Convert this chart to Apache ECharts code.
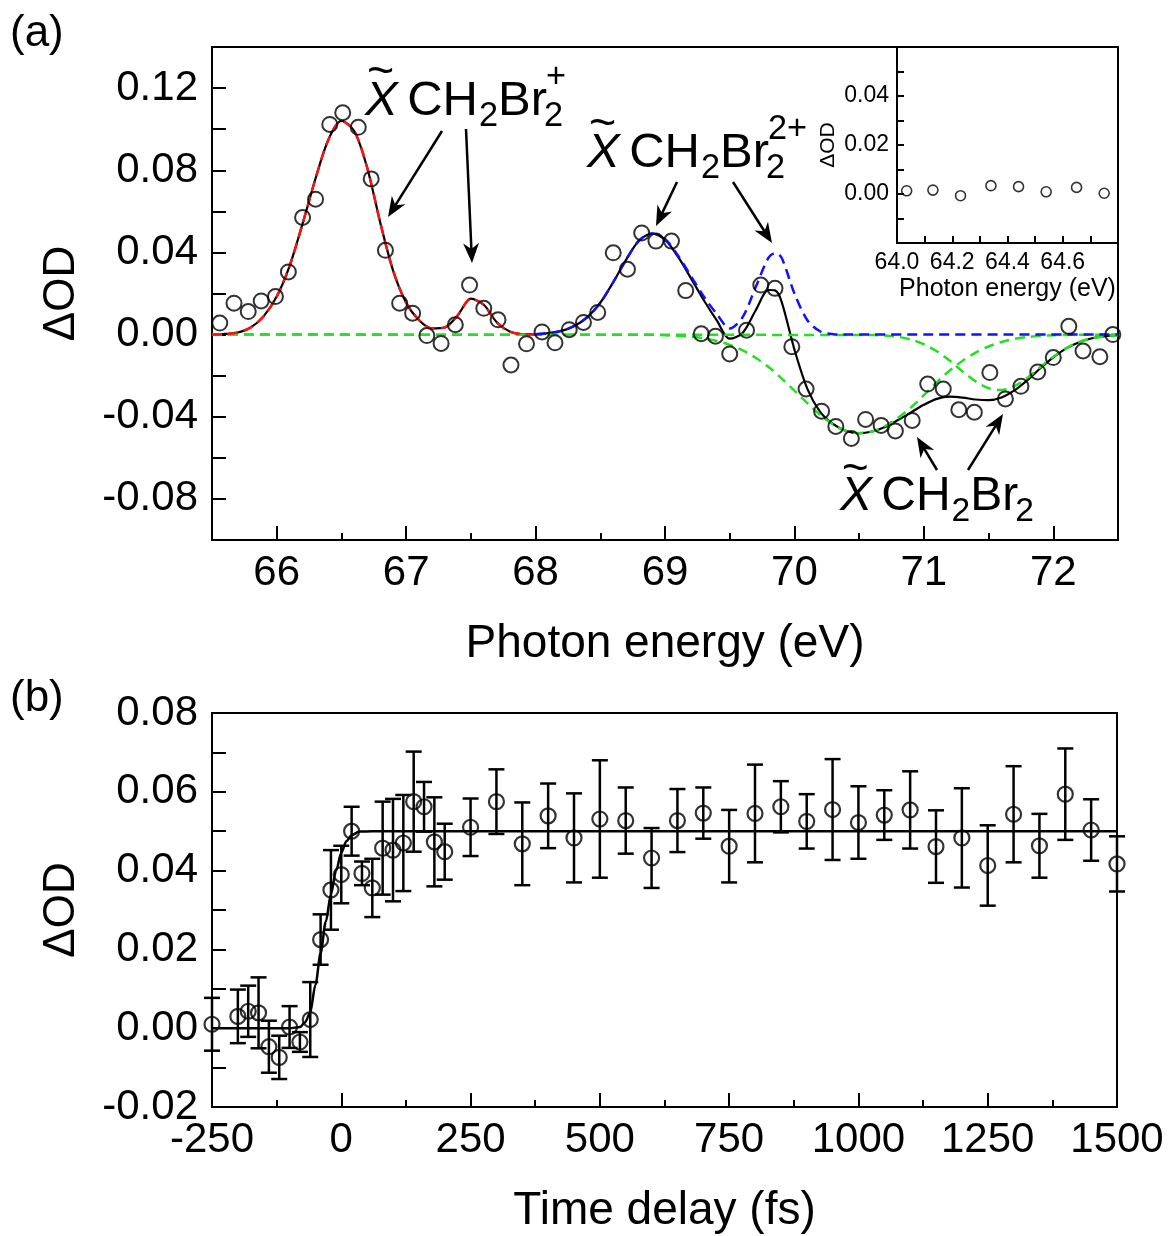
<!DOCTYPE html>
<html><head><meta charset="utf-8">
<script src="https://cdn.jsdelivr.net/npm/echarts@6/dist/echarts.min.js"></script>
<style>html,body{margin:0;padding:0;background:#fff}#c{width:1171px;height:1236px}</style>
</head><body><div id="c"></div>
<script>
const FONT = '"Liberation Sans", Arial, Helvetica, sans-serif';

// ---------- Panel (a): measured transient spectrum ----------
const specEnergy = [65.56,65.67,65.78,65.88,65.99,66.09,66.20,66.30,66.41,66.51,66.63,66.73,66.84,66.95,67.05,67.16,67.27,67.38,67.49,67.60,67.71,67.81,67.93,68.05,68.15,68.26,68.37,68.48,68.60,68.71,68.82,68.93,69.05,69.16,69.28,69.39,69.50,69.63,69.74,69.85,69.98,70.09,70.21,70.32,70.44,70.55,70.67,70.78,70.91,71.03,71.15,71.27,71.39,71.51,71.63,71.75,71.88,72.00,72.12,72.23,72.36,72.46];
const specOD = [0.0056,0.0153,0.0112,0.0164,0.0185,0.0305,0.0570,0.0659,0.1023,0.1080,0.1009,0.0758,0.0410,0.0153,0.0104,-0.0005,-0.0043,0.0048,0.0241,0.0128,0.0072,-0.0148,-0.0045,0.0013,-0.0040,0.0024,0.0059,0.0108,0.0398,0.0318,0.0495,0.0455,0.0455,0.0214,0.0004,-0.0008,-0.0094,0.0021,0.0241,0.0225,-0.0059,-0.0265,-0.0373,-0.0447,-0.0506,-0.0413,-0.0442,-0.0469,-0.0418,-0.0241,-0.0265,-0.0366,-0.0378,-0.0185,-0.0313,-0.0252,-0.0182,-0.0112,0.0040,-0.0080,-0.0108,0.0000];

// total fit (black solid)
const totalE = [65.5,65.6,65.7,65.8,65.9,66.0,66.1,66.2,66.3,66.4,66.5,66.6,66.7,66.8,66.9,67.0,67.1,67.2,67.3,67.4,67.5,67.6,67.7,67.8,67.9,68.0,68.1,68.2,68.3,68.4,68.5,68.6,68.7,68.8,68.9,69.0,69.1,69.2,69.3,69.4,69.5,69.6,69.7,69.8,69.85,69.9,70.0,70.1,70.2,70.3,70.4,70.5,70.6,70.7,70.8,70.9,71.0,71.1,71.2,71.3,71.4,71.5,71.6,71.7,71.8,71.9,72.0,72.1,72.2,72.3,72.4,72.5];
const totalOD = [0.0000,0.0003,0.0010,0.0035,0.0090,0.0185,0.0335,0.0540,0.0760,0.0950,0.1040,0.0990,0.0810,0.0545,0.0310,0.0155,0.0070,0.0030,0.0035,0.0095,0.0175,0.0145,0.0060,0.0015,0.0002,0.0002,0.0007,0.0018,0.0042,0.0085,0.0155,0.0255,0.0365,0.0458,0.0492,0.0462,0.0379,0.0275,0.0167,0.0069,-0.0020,0.0008,0.0117,0.0217,0.0215,0.0162,-0.0073,-0.0264,-0.0377,-0.0436,-0.0469,-0.0480,-0.0472,-0.0450,-0.0416,-0.0379,-0.0342,-0.0313,-0.0302,-0.0307,-0.0316,-0.0319,-0.0306,-0.0272,-0.0222,-0.0164,-0.0111,-0.0067,-0.0037,-0.0018,-0.0008,-0.0003];

// cation component (red dashed)
const cationE = [65.5,65.6,65.7,65.8,65.9,66.0,66.1,66.2,66.3,66.4,66.5,66.6,66.7,66.8,66.9,67.0,67.1,67.2,67.3,67.4,67.5,67.6,67.7,67.8,67.9,68.0];
const cationOD = [0.0000,0.0003,0.0010,0.0035,0.0090,0.0185,0.0335,0.0540,0.0760,0.0950,0.1040,0.0990,0.0810,0.0545,0.0310,0.0155,0.0070,0.0030,0.0035,0.0095,0.0175,0.0145,0.0060,0.0015,0.0002,0.0000];

// dication component (blue dashed)
const dicationE = [68.0,68.1,68.2,68.3,68.4,68.5,68.6,68.7,68.8,68.9,69.0,69.1,69.2,69.3,69.4,69.5,69.6,69.7,69.8,69.85,69.9,70.0,70.1,70.2,70.3,70.4,72.5];
const dicationOD = [0.0002,0.0007,0.0018,0.0042,0.0085,0.0155,0.0255,0.0365,0.0458,0.0492,0.0465,0.0385,0.0285,0.0185,0.0100,0.0030,0.0085,0.0230,0.0375,0.0397,0.0375,0.0200,0.0070,0.0015,0.0002,0.0000,0.0000];

// neutral depletion components (green dashed)
const neutral1E = [65.5,68.9,69.0,69.1,69.2,69.3,69.4,69.5,69.6,69.7,69.8,69.9,70.0,70.1,70.2,70.3,70.4,70.5,70.6,70.7,70.8,70.9,71.0,71.1,71.2,71.3,71.4,71.5,71.6,71.7,71.8,71.9,72.0,72.2,72.5];
const neutral1OD = [0,-0.0001,-0.0003,-0.0006,-0.0010,-0.0018,-0.0031,-0.0050,-0.0077,-0.0113,-0.0158,-0.0213,-0.0273,-0.0334,-0.0392,-0.0438,-0.0469,-0.0480,-0.0472,-0.0445,-0.0405,-0.0355,-0.0295,-0.0232,-0.0175,-0.0127,-0.0088,-0.0058,-0.0036,-0.0021,-0.0012,-0.0006,-0.0003,-0.0001,0];
const neutral2E = [65.5,70.6,70.7,70.8,70.9,71.0,71.1,71.2,71.3,71.4,71.5,71.6,71.7,71.8,71.9,72.0,72.1,72.2,72.3,72.4,72.5];
const neutral2OD = [0,-0.0002,-0.0005,-0.0011,-0.0024,-0.0047,-0.0081,-0.0127,-0.0180,-0.0228,-0.0261,-0.0270,-0.0251,-0.0210,-0.0158,-0.0108,-0.0066,-0.0036,-0.0018,-0.0008,-0.0003];

// inset
const insetEnergy = [64.035,64.13,64.23,64.34,64.44,64.54,64.65,64.75];
const insetOD = [0.0013,0.0016,-0.0007,0.0034,0.0030,0.0009,0.0027,0.0003];

// ---------- Panel (b): kinetics ----------
const delay = [-250,-200,-180,-160,-140,-120,-100,-80,-60,-40,-20,0,20,40,60,80,100,120,140,160,180,200,250,300,350,400,450,500,550,600,650,700,750,800,850,900,950,1000,1050,1100,1150,1200,1250,1300,1350,1400,1450,1500];
const delayOD = [0.0010,0.0030,0.0043,0.0039,-0.0047,-0.0074,0.0003,-0.0035,0.0022,0.0225,0.0351,0.0390,0.0500,0.0393,0.0356,0.0457,0.0452,0.0470,0.0575,0.0562,0.0473,0.0448,0.0510,0.0575,0.0468,0.0539,0.0483,0.0531,0.0527,0.0432,0.0527,0.0546,0.0462,0.0545,0.0562,0.0525,0.0555,0.0522,0.0541,0.0554,0.0461,0.0483,0.0413,0.0543,0.0463,0.0594,0.0503,0.0417];
const delayErr = [0.0067,0.0068,0.0065,0.0090,0.0066,0.0055,0.0053,0.0025,0.0095,0.0064,0.0101,0.0073,0.0062,0.0030,0.0074,0.0118,0.0130,0.0122,0.0127,0.0063,0.0113,0.0071,0.0073,0.0082,0.0105,0.0082,0.0113,0.0149,0.0084,0.0076,0.0080,0.0065,0.0092,0.0124,0.0065,0.0069,0.0128,0.0092,0.0063,0.0098,0.0092,0.0126,0.0102,0.0122,0.0081,0.0116,0.0078,0.0070];
const stepDelay = [-250,-100,-80,-70,-60,-50,-40,-30,-20,-10,0,10,20,35,60,1500];
const stepFit = [0,0,0.0003,0.0015,0.0040,0.0110,0.0190,0.0270,0.0340,0.0400,0.0445,0.0475,0.0490,0.0499,0.0500,0.0500];

// ---------- tick values ----------
const aXMajor = [66,67,68,69,70,71,72];
const aXMinor = [66.5,67.5,68.5,69.5,70.5,71.5];

const pairs = (xs, ys) => xs.map((x, i) => [x, ys[i]]);
const BLACK = '#000';
const tickLbl = (size) => ({color: BLACK, fontSize: size, fontFamily: FONT});
const axLine = {show: true, onZero: false, lineStyle: {color: BLACK, width: 2}};

function fmtEvery(step, lo, hi, dec) {
  return function (v) {
    const k = Math.round(v / step * 1000) / 1000;
    if (Math.abs(k - Math.round(k)) > 1e-6) return '';
    if (v < lo - 1e-9 || v > hi + 1e-9) return '';
    if (Math.abs(v) < 1e-9) v = 0;
    return v.toFixed(dec);
  };
}

// ---------- annotations ----------
function txt(s, x, y, size, italic) {
  return {type: 'text', x: x, y: y, z: 100,
    style: {text: s, fontSize: size, fontFamily: FONT, fontStyle: italic ? 'italic' : 'normal',
      fill: BLACK, align: 'left', verticalAlign: 'middle', textAlign: 'left', textVerticalAlign: 'middle'}};
}
function arrow(x1, y1, x2, y2) {
  const dx = x2 - x1, dy = y2 - y1, L = Math.hypot(dx, dy);
  const ux = dx / L, uy = dy / L, px = -uy, py = ux;
  const hl = 20, hw = 8;
  const bx = x2 - ux * hl, by = y2 - uy * hl;
  const nx = x2 - ux * hl * 0.7, ny = y2 - uy * hl * 0.7;
  return [
    {type: 'line', z: 100, shape: {x1: x1, y1: y1, x2: nx, y2: ny}, style: {stroke: BLACK, lineWidth: 2.5}},
    {type: 'polygon', z: 100, shape: {points: [[x2, y2], [bx + px * hw, by + py * hw], [nx, ny], [bx - px * hw, by - py * hw]]}, style: {fill: BLACK}}
  ];
}
function formula(x, yc, F, sup) {
  const s = F * 0.7;
  const out = [];
  out.push(txt('~', x + 2, yc - F * 0.56, F * 0.95, false));
  out.push(txt('X', x, yc, F, true));
  let cx = x + F * 0.86;
  out.push(txt('CH', cx, yc, F)); cx += F * 1.444 + 1;
  out.push(txt('2', cx, yc + F * 0.31, s)); cx += s * 0.556;
  out.push(txt('Br', cx, yc, F)); cx += F * 1.0 - 3;
  out.push(txt('2', cx, yc + F * 0.31, s));
  if (sup) out.push(txt(sup, cx + 2, yc - F * 0.48, s));
  return out;
}

const graphics = [
  {type: 'text', x: 10, y: 12, z: 100, style: {text: '(a)', fontSize: 44, fontFamily: FONT, fill: BLACK}},
  {type: 'text', x: 10, y: 677, z: 100, style: {text: '(b)', fontSize: 44, fontFamily: FONT, fill: BLACK}},
  ...formula(365, 101, 49, '+'),
  ...formula(587, 153, 49, '2+'),
  ...formula(840, 497, 48, null),
  ...arrow(442, 131, 388, 217),
  ...arrow(466, 129, 472, 263),
  ...arrow(677, 182, 656, 226),
  ...arrow(733, 182, 772, 243),
  ...arrow(937, 470, 917, 437),
  ...arrow(968, 470, 1003, 414)
];

const chart = echarts.init(document.getElementById('c'), null, {renderer: 'canvas'});
const dash = [10, 6];
chart.setOption({
  animation: false,
  backgroundColor: '#fff',
  grid: [
    {left: 212, top: 47, width: 906, height: 493, show: true, borderColor: BLACK, borderWidth: 2},
    {left: 212, top: 713, width: 905, height: 394, show: true, borderColor: BLACK, borderWidth: 2},
    {left: 897, top: 47, width: 221, height: 196, show: true, backgroundColor: '#fff', borderColor: BLACK, borderWidth: 2}
  ],
  xAxis: [
    {gridIndex: 0, type: 'value', min: 65.5, max: 72.5, position: 'bottom',
      name: 'Photon energy (eV)', nameLocation: 'middle', nameGap: 81,
      nameTextStyle: {color: BLACK, fontSize: 46, fontFamily: FONT},
      axisLine: axLine,
      axisTick: {show: true, inside: true, length: 14, customValues: aXMajor, lineStyle: {color: BLACK, width: 2}},
      axisLabel: Object.assign({customValues: aXMajor, margin: 12}, tickLbl(42)),
      splitLine: {show: false}},
    {gridIndex: 0, type: 'value', min: 65.5, max: 72.5, position: 'bottom',
      axisLine: {show: false, onZero: false},
      axisTick: {show: true, inside: true, length: 7, customValues: aXMinor, lineStyle: {color: BLACK, width: 2}},
      axisLabel: {show: false}, splitLine: {show: false}},
    {gridIndex: 1, type: 'value', min: -250, max: 1500, interval: 250, position: 'bottom',
      name: 'Time delay (fs)', nameLocation: 'middle', nameGap: 81,
      nameTextStyle: {color: BLACK, fontSize: 46, fontFamily: FONT},
      axisLine: axLine,
      axisTick: {show: true, inside: true, length: 14, lineStyle: {color: BLACK, width: 2}},
      minorTick: {show: true, splitNumber: 2, length: 7, lineStyle: {color: BLACK, width: 2}},
      axisLabel: Object.assign({margin: 12, showMinLabel: true, showMaxLabel: true, formatter: (v) => String(Math.round(v))}, tickLbl(42)),
      splitLine: {show: false}, minorSplitLine: {show: false}},
    {gridIndex: 2, type: 'value', min: 64.0, max: 64.8, interval: 0.1, position: 'bottom',
      name: 'Photon energy (eV)', nameLocation: 'middle', nameGap: 34,
      nameTextStyle: {color: BLACK, fontSize: 25, fontFamily: FONT},
      axisLine: axLine,
      axisTick: {show: true, inside: true, length: 7, lineStyle: {color: BLACK, width: 2}},
      axisLabel: Object.assign({margin: 8, formatter: fmtEvery(0.2, 64.0, 64.6, 1)}, tickLbl(23)),
      splitLine: {show: false}}
  ],
  yAxis: [
    {gridIndex: 0, type: 'value', min: -0.10, max: 0.14, interval: 0.02, position: 'left',
      name: 'ΔOD', nameLocation: 'middle', nameGap: 128,
      nameTextStyle: {color: BLACK, fontSize: 44, fontFamily: FONT},
      axisLine: axLine,
      axisTick: {show: true, inside: true, length: 14, lineStyle: {color: BLACK, width: 2}},
      axisLabel: Object.assign({margin: 14, formatter: fmtEvery(0.04, -0.08, 0.12, 2)}, tickLbl(42)),
      splitLine: {show: false}},
    {gridIndex: 1, type: 'value', min: -0.02, max: 0.08, interval: 0.01, position: 'left',
      name: 'ΔOD', nameLocation: 'middle', nameGap: 128,
      nameTextStyle: {color: BLACK, fontSize: 44, fontFamily: FONT},
      axisLine: axLine,
      axisTick: {show: true, inside: true, length: 14, lineStyle: {color: BLACK, width: 2}},
      axisLabel: Object.assign({margin: 14, formatter: fmtEvery(0.02, -0.02, 0.08, 2)}, tickLbl(42)),
      splitLine: {show: false}},
    {gridIndex: 2, type: 'value', min: -0.02, max: 0.06, interval: 0.01, position: 'left',
      name: 'ΔOD', nameLocation: 'middle', nameGap: 58,
      nameTextStyle: {color: BLACK, fontSize: 21, fontFamily: FONT},
      axisLine: axLine,
      axisTick: {show: true, inside: true, length: 7, lineStyle: {color: BLACK, width: 2}},
      axisLabel: Object.assign({margin: 8, formatter: fmtEvery(0.02, 0, 0.04, 2)}, tickLbl(23)),
      splitLine: {show: false}}
  ],
  series: [
    {type: 'line', xAxisIndex: 0, yAxisIndex: 0, data: pairs(totalE, totalOD), smooth: 0.3, showSymbol: false, z: 2,
      lineStyle: {color: BLACK, width: 2.2}},
    {type: 'line', xAxisIndex: 0, yAxisIndex: 0, data: pairs(neutral1E, neutral1OD), smooth: 0.3, showSymbol: false, z: 3,
      lineStyle: {color: '#22e022', width: 2.5, type: dash}},
    {type: 'line', xAxisIndex: 0, yAxisIndex: 0, data: pairs(neutral2E, neutral2OD), smooth: 0.3, showSymbol: false, z: 3,
      lineStyle: {color: '#22e022', width: 2.5, type: dash}},
    {type: 'line', xAxisIndex: 0, yAxisIndex: 0, data: pairs(dicationE, dicationOD), smooth: 0.3, showSymbol: false, z: 3,
      lineStyle: {color: '#1010ff', width: 2.5, type: dash}},
    {type: 'line', xAxisIndex: 0, yAxisIndex: 0, data: pairs(cationE, cationOD), smooth: 0.3, showSymbol: false, z: 3,
      lineStyle: {color: '#ff1010', width: 2.5, type: dash}},
    {type: 'scatter', xAxisIndex: 0, yAxisIndex: 0, data: pairs(specEnergy, specOD), symbol: 'circle', symbolSize: 15, z: 4,
      itemStyle: {color: 'rgba(0,0,0,0)', borderColor: BLACK, borderWidth: 2}},
    {type: 'scatter', xAxisIndex: 3, yAxisIndex: 2, data: pairs(insetEnergy, insetOD), symbol: 'circle', symbolSize: 10, z: 4,
      itemStyle: {color: 'rgba(0,0,0,0)', borderColor: BLACK, borderWidth: 1.6}},
    {type: 'line', xAxisIndex: 2, yAxisIndex: 1, data: pairs(stepDelay, stepFit), smooth: 0.3, smoothMonotone: 'x', showSymbol: false, z: 2,
      lineStyle: {color: BLACK, width: 2.5}},
    {type: 'custom', xAxisIndex: 2, yAxisIndex: 1, z: 3,
      data: delay.map((t, i) => [t, delayOD[i], delayErr[i]]),
      encode: {x: 0, y: 1},
      renderItem: function (params, api) {
        const x = api.value(0), y = api.value(1), e = api.value(2);
        const top = api.coord([x, y + e]), bot = api.coord([x, y - e]);
        const hw = 8, st = {stroke: BLACK, lineWidth: 2.5};
        return {type: 'group', children: [
          {type: 'line', shape: {x1: top[0], y1: top[1], x2: bot[0], y2: bot[1]}, style: st},
          {type: 'line', shape: {x1: top[0] - hw, y1: top[1], x2: top[0] + hw, y2: top[1]}, style: st},
          {type: 'line', shape: {x1: bot[0] - hw, y1: bot[1], x2: bot[0] + hw, y2: bot[1]}, style: st}
        ]};
      }},
    {type: 'scatter', xAxisIndex: 2, yAxisIndex: 1, data: pairs(delay, delayOD), symbol: 'circle', symbolSize: 15, z: 4,
      itemStyle: {color: 'rgba(0,0,0,0)', borderColor: BLACK, borderWidth: 2.2}}
  ],
  graphic: graphics
});
</script>
</body></html>
